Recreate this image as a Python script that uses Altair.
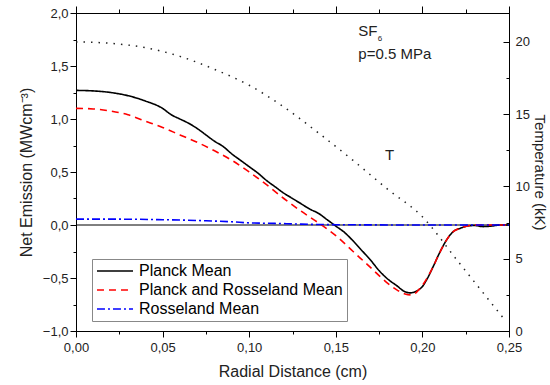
import altair as alt
import pandas as pd

# ---- data ----
planck_x = [0.000, 0.010, 0.020, 0.030, 0.040, 0.050, 0.055, 0.060, 0.065, 0.070, 0.075, 0.080,
            0.085, 0.090, 0.095, 0.100, 0.105, 0.110, 0.115, 0.120, 0.125, 0.130, 0.135, 0.140,
            0.145, 0.150, 0.155, 0.160, 0.165, 0.170, 0.175, 0.180, 0.185, 0.190, 0.193, 0.197,
            0.200, 0.203, 0.206, 0.210, 0.214, 0.218, 0.222, 0.226, 0.230, 0.235, 0.240, 0.245, 0.250]
planck_y = [1.27, 1.265, 1.25, 1.22, 1.17, 1.10, 1.04, 1.00, 0.96, 0.91, 0.85, 0.79,
            0.74, 0.67, 0.61, 0.55, 0.49, 0.42, 0.36, 0.30, 0.25, 0.20, 0.15, 0.11,
            0.05, -0.01, -0.07, -0.15, -0.24, -0.33, -0.43, -0.51, -0.57, -0.63, -0.64, -0.62,
            -0.58, -0.50, -0.40, -0.26, -0.14, -0.06, -0.03, -0.01, -0.005, -0.015, -0.01, 0.0, 0.0]

pr_x = [0.000, 0.010, 0.020, 0.030, 0.040, 0.050, 0.060, 0.070, 0.080, 0.090, 0.100, 0.110,
        0.120, 0.130, 0.140, 0.150, 0.160, 0.170, 0.180, 0.185, 0.190, 0.194, 0.198, 0.202,
        0.206, 0.210, 0.214, 0.218, 0.222, 0.226, 0.230, 0.240, 0.250]
pr_y = [1.10, 1.095, 1.075, 1.04, 0.98, 0.92, 0.85, 0.78, 0.70, 0.61, 0.50, 0.38,
        0.25, 0.13, 0.02, -0.10, -0.25, -0.40, -0.55, -0.61, -0.65, -0.66, -0.61, -0.52,
        -0.40, -0.26, -0.14, -0.06, -0.03, -0.01, 0.0, 0.0, 0.0]

ross_x = [0.000, 0.025, 0.050, 0.075, 0.090, 0.100, 0.115, 0.130, 0.150, 0.200, 0.250]
ross_y = [0.055, 0.055, 0.050, 0.040, 0.030, 0.020, 0.015, 0.008, 0.003, 0.0, 0.0]

temp_x = [0.000, 0.020, 0.040, 0.060, 0.080, 0.100, 0.120, 0.140, 0.160, 0.180, 0.200,
          0.220, 0.240, 0.248]
temp_y = [20.0, 19.9, 19.6, 19.0, 18.1, 17.0, 15.5, 13.7, 11.8, 9.8, 7.9,
          4.9, 1.9, 0.7]

series_names = ["Planck Mean", "Planck and Rosseland Mean", "Rosseland Mean"]
series_colors = ["#000000", "#ff0000", "#0000ff"]

x_ticks = [0.0, 0.025, 0.05, 0.075, 0.1, 0.125, 0.15, 0.175, 0.2, 0.225, 0.25]
y_ticks = [-1.0, -0.75, -0.5, -0.25, 0.0, 0.25, 0.5, 0.75, 1.0, 1.25, 1.5, 1.75, 2.0]
t_ticks = [0, 2.5, 5, 7.5, 10, 12.5, 15, 17.5, 20]

# ---- frames ----
rows = []
for name, xs, ys in zip(series_names, [planck_x, pr_x, ross_x], [planck_y, pr_y, ross_y]):
    for i, (a, b) in enumerate(zip(xs, ys)):
        rows.append({"series": name, "x": a, "y": b, "order": i})
lines_df = pd.DataFrame(rows)
temp_df = pd.DataFrame({"x": temp_x, "t": temp_y})

FONT = "Liberation Sans"
W, H = 433, 318
xscale = alt.Scale(domain=[0, 0.25], nice=False, zero=False)
yscale = alt.Scale(domain=[-1, 2], nice=False, zero=False)
tscale = alt.Scale(domain=[0, 22], nice=False, zero=False)

x_major = "abs(round(datum.value*1000) % 50) < 0.5"
y_major = "abs(round(datum.value*100) % 50) < 0.5"
t_major = "abs(round(datum.value*10) % 50) < 0.5"

common = dict(grid=False, domainColor="black", tickColor="black", labelColor="#222",
              titleColor="#222", labelFont=FONT, titleFont=FONT, labelFontSize=13,
              titleFontWeight="normal", labelFlush=False, labelOverlap=False)

x_axis_bottom = alt.Axis(
    values=x_ticks, orient="bottom", title="Radial Distance (cm)",
    labelExpr=f"({x_major}) ? replace(format(datum.value, '.2f'), '.', ',') : ''",
    tickSize={"condition": {"test": x_major, "value": 6}, "value": 3},
    labelPadding=4, titlePadding=9, titleFontSize=16, **common,
)
x_axis_top = alt.Axis(
    values=x_ticks, orient="top", title=None, labels=False,
    tickSize={"condition": {"test": x_major, "value": 7}, "value": 4},
    grid=False, domainColor="black", tickColor="black",
)
y_axis_left = alt.Axis(
    values=y_ticks, orient="left", title="Net Emission (MWcm⁻³)",
    labelExpr=f"({y_major}) ? replace(format(datum.value, '.1f'), '.', ',') : ''",
    tickSize={"condition": {"test": y_major, "value": 6}, "value": 3},
    labelPadding=2, titlePadding=8, titleFontSize=16, **common,
)
t_axis_right = alt.Axis(
    values=t_ticks, orient="right", title="Temperature (kK)",
    labelExpr=f"({t_major}) ? format(datum.value, 'd') : ''",
    ticks=False, tickSize=0, labelPadding=6, titlePadding=2, titleFontSize=15, **common,
)
# inward-pointing ticks on the right edge
t_axis_inward = alt.Axis(
    values=t_ticks, orient="left", offset=-W, title=None, labels=False, domain=False,
    tickSize={"condition": {"test": t_major, "value": 6}, "value": 3},
    grid=False, tickColor="black",
)

legend_spec = dict(title=None, orient="none", legendX=16, legendY=246,
                   symbolType="stroke", symbolSize=1300, symbolStrokeWidth=1.6,
                   clipHeight=16, labelFont=FONT, labelFontSize=16, labelColor="black",
                   labelOffset=5, rowPadding=3, padding=4,
                   strokeColor="#888888", fillColor="white", labelLimit=400)

zero_rule = alt.Chart(pd.DataFrame({"y": [0.0]})).mark_rule(color="black", strokeWidth=1).encode(
    y=alt.Y("y:Q", scale=yscale, axis=None)
)

lines = alt.Chart(lines_df).mark_line(strokeWidth=1.6, interpolate="monotone").encode(
    x=alt.X("x:Q", scale=xscale, axis=x_axis_bottom),
    y=alt.Y("y:Q", scale=yscale, axis=y_axis_left),
    order="order:Q",
    color=alt.Color("series:N", scale=alt.Scale(domain=series_names, range=series_colors),
                    legend=alt.Legend(**legend_spec)),
    strokeDash=alt.StrokeDash("series:N",
                              scale=alt.Scale(domain=series_names,
                                              range=[[1, 0], [7, 5], [8, 3, 2, 3]]),
                              legend=alt.Legend(**legend_spec)),
)

ann_big = pd.DataFrame({"text": ["SF", "p=0.5 MPa", "T"],
                        "x": [0.163, 0.163, 0.1784],
                        "y": [1.832, 1.611, 0.656]})
ann_small = pd.DataFrame({"text": ["6"], "x": [0.1742], "y": [1.755]})

texts_big = alt.Chart(ann_big).mark_text(align="left", baseline="middle", font=FONT,
                                         fontSize=15, color="#222").encode(
    x=alt.X("x:Q", scale=xscale, axis=None),
    y=alt.Y("y:Q", scale=yscale, axis=None), text="text:N"
)
texts_small = alt.Chart(ann_small).mark_text(align="left", baseline="middle", font=FONT,
                                             fontSize=8, color="#222").encode(
    x=alt.X("x:Q", scale=xscale, axis=None),
    y=alt.Y("y:Q", scale=yscale, axis=None), text="text:N"
)

temp = alt.Chart(temp_df).mark_line(color="#222", strokeWidth=1.5, strokeDash=[1.5, 6],
                                    interpolate="monotone").encode(
    x=alt.X("x:Q", scale=xscale, axis=x_axis_top),
    y=alt.Y("t:Q", scale=tscale, axis=t_axis_right),
)

temp_ticks = alt.Chart(temp_df).mark_point(opacity=0).encode(
    x=alt.X("x:Q", scale=xscale, axis=None),
    y=alt.Y("t:Q", scale=tscale, axis=t_axis_inward),
)

chart = alt.layer(zero_rule, lines, texts_big, texts_small, temp, temp_ticks).resolve_scale(
    y="independent"
).resolve_axis(
    x="independent", y="independent"
).properties(
    width=W, height=H,
    autosize=alt.AutoSizeParams(type="none"),
    padding={"left": 76, "top": 13, "right": 41, "bottom": 54},
    background="white",
).configure_view(stroke="black", strokeWidth=1)

chart.save("out.html", embed_options={"renderer": "svg", "actions": False})
